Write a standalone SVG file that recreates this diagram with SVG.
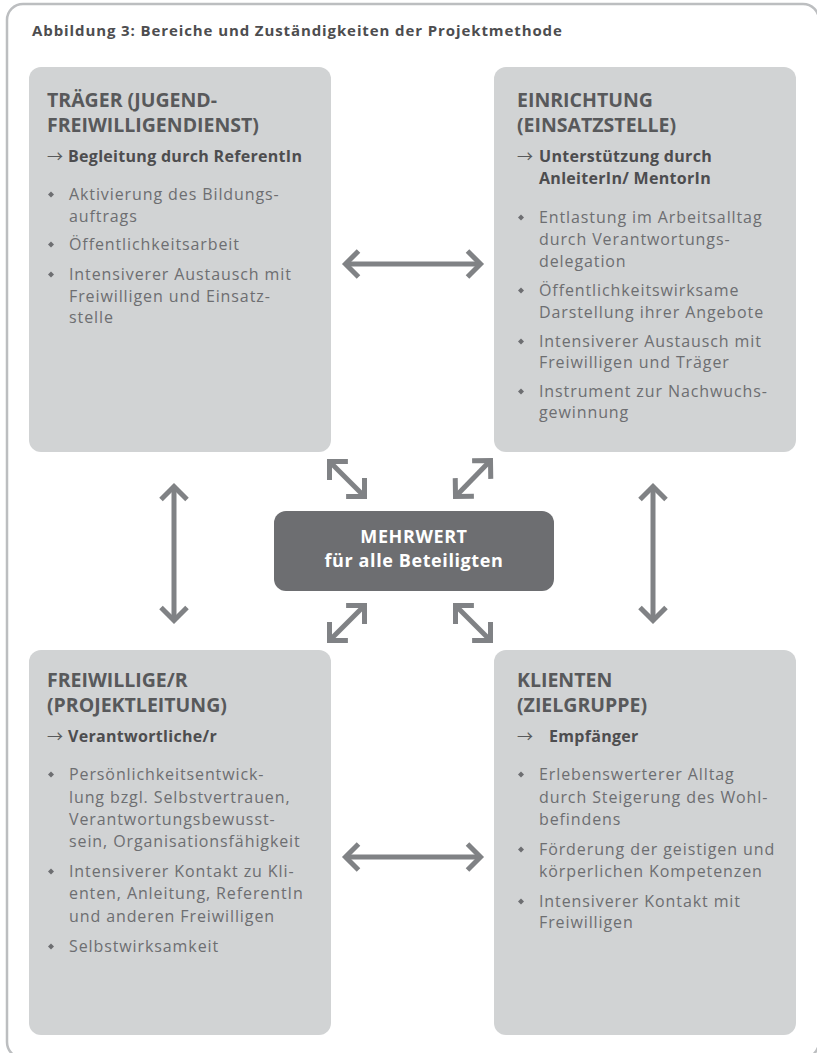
<svg xmlns="http://www.w3.org/2000/svg" width="817" height="1053" viewBox="0 0 817 1053">
<defs>
<style>
.frame{fill:none;stroke:#bcbec0;stroke-width:2.5}
.box{fill:#d1d3d4}
.center{fill:#6d6e71}
.hdr{font-family:"Open Sans",sans-serif;font-weight:bold;font-size:15px;fill:#4d4d4f;letter-spacing:0.9px}
.title{font-family:"Open Sans",sans-serif;font-weight:bold;font-size:19.5px;fill:#58595b}
.sub{font-family:"Open Sans",sans-serif;font-weight:bold;font-size:16px;fill:#4d4d4f;letter-spacing:0.3px}
.arr{font-family:"Noto Sans CJK JP","DejaVu Sans",sans-serif;font-weight:normal;font-size:16px;fill:#58595b;letter-spacing:0}
.body{font-family:"Open Sans",sans-serif;font-size:16px;fill:#6d6e71;letter-spacing:0.9px}
.ctext{font-family:"Open Sans",sans-serif;font-weight:bold;font-size:18px;fill:#ffffff;text-anchor:middle;letter-spacing:0.6px}
.conn{fill:none;stroke:#808285;stroke-width:5;marker-start:url(#chev);marker-end:url(#chev)}
.bul{fill:#6d6e71}
</style>
<marker id="chev" markerUnits="userSpaceOnUse" viewBox="-20 -20 30 40" markerWidth="30" markerHeight="40" refX="0" refY="0" orient="auto-start-reverse">
<path d="M-13,-13 L0,0 L-13,13" fill="none" stroke="#808285" stroke-width="5" stroke-linejoin="miter"/>
</marker>
<path id="dia" d="M0,-3 L3,0 L0,3 L-3,0 Z"/>
</defs>
<rect x="0" y="0" width="817" height="1053" fill="#ffffff"/>
<rect class="frame" x="7" y="4" width="812" height="1054" rx="16"/>
<text class="hdr" x="32" y="36">Abbildung 3: Bereiche und Zuständigkeiten der Projektmethode</text>

<g id="connectors">
<line class="conn" x1="345.5" y1="264" x2="480.5" y2="264"/>
<line class="conn" x1="345.5" y1="857" x2="480.5" y2="857"/>
<line class="conn" x1="174" y1="486.5" x2="174" y2="620.5"/>
<line class="conn" x1="653" y1="486.5" x2="653" y2="620.5"/>
<line class="conn" x1="329.5" y1="461.5" x2="364.5" y2="496.5"/>
<line class="conn" x1="490.5" y1="460.5" x2="455.5" y2="496.5"/>
<line class="conn" x1="364.5" y1="605.5" x2="329.5" y2="640.5"/>
<line class="conn" x1="455.5" y1="605.5" x2="490.5" y2="640.5"/>
</g>

<g id="traeger">
<rect class="box" x="29" y="67" width="302" height="385" rx="12"/>
<text class="title" x="47" y="107">TRÄGER (JUGEND-</text>
<text class="title" x="47" y="132">FREIWILLIGENDIENST)</text>
<text class="arr" x="47" y="162">→</text>
<text class="sub" x="68" y="162">Begleitung durch ReferentIn</text>
<use href="#dia" x="51" y="194.5" class="bul"/>
<text class="body" x="69" y="200">Aktivierung des Bildungs-</text>
<text class="body" x="69" y="222">auftrags</text>
<use href="#dia" x="51" y="244.5" class="bul"/>
<text class="body" x="69" y="250">Öffentlichkeitsarbeit</text>
<use href="#dia" x="51" y="274.5" class="bul"/>
<text class="body" x="69" y="280">Intensiverer Austausch mit</text>
<text class="body" x="69" y="302">Freiwilligen und Einsatz-</text>
<text class="body" x="69" y="323">stelle</text>
</g>

<g id="einrichtung">
<rect class="box" x="494" y="67" width="302" height="385" rx="12"/>
<text class="title" x="517" y="107">EINRICHTUNG</text>
<text class="title" x="517" y="132">(EINSATZSTELLE)</text>
<text class="arr" x="517" y="162">→</text>
<text class="sub" x="539" y="162">Unterstützung durch</text>
<text class="sub" x="539" y="184">AnleiterIn/ MentorIn</text>
<use href="#dia" x="521" y="217.5" class="bul"/>
<text class="body" x="539" y="223">Entlastung im Arbeitsalltag</text>
<text class="body" x="539" y="245">durch Verantwortungs-</text>
<text class="body" x="539" y="267">delegation</text>
<use href="#dia" x="521" y="290.5" class="bul"/>
<text class="body" x="539" y="296">Öffentlichkeitswirksame</text>
<text class="body" x="539" y="318">Darstellung ihrer Angebote</text>
<use href="#dia" x="521" y="341.5" class="bul"/>
<text class="body" x="539" y="347">Intensiverer Austausch mit</text>
<text class="body" x="539" y="368">Freiwilligen und Träger</text>
<use href="#dia" x="521" y="391.5" class="bul"/>
<text class="body" x="539" y="397">Instrument zur Nachwuchs-</text>
<text class="body" x="539" y="418">gewinnung</text>
</g>

<g id="mehrwert">
<rect class="center" x="274" y="511" width="280" height="80" rx="12"/>
<text class="ctext" x="414" y="543">MEHRWERT</text>
<text class="ctext" x="414" y="567">für alle Beteiligten</text>
</g>

<g id="freiwillige">
<rect class="box" x="29" y="650" width="302" height="385" rx="12"/>
<text class="title" x="47" y="687">FREIWILLIGE/R</text>
<text class="title" x="47" y="712">(PROJEKTLEITUNG)</text>
<text class="arr" x="47" y="742">→</text>
<text class="sub" x="68" y="742">Verantwortliche/r</text>
<use href="#dia" x="51" y="774.5" class="bul"/>
<text class="body" x="69" y="780">Persönlichkeitsentwick-</text>
<text class="body" x="69" y="803">lung bzgl. Selbstvertrauen,</text>
<text class="body" x="69" y="825">Verantwortungsbewusst-</text>
<text class="body" x="69" y="847">sein, Organisationsfähigkeit</text>
<use href="#dia" x="51" y="871.5" class="bul"/>
<text class="body" x="69" y="877">Intensiverer Kontakt zu Kli-</text>
<text class="body" x="69" y="899">enten, Anleitung, ReferentIn</text>
<text class="body" x="69" y="922">und anderen Freiwilligen</text>
<use href="#dia" x="51" y="946.5" class="bul"/>
<text class="body" x="69" y="952">Selbstwirksamkeit</text>
</g>

<g id="klienten">
<rect class="box" x="494" y="650" width="302" height="385" rx="12"/>
<text class="title" x="517" y="687">KLIENTEN</text>
<text class="title" x="517" y="712">(ZIELGRUPPE)</text>
<text class="arr" x="517" y="742">→</text>
<text class="sub" x="549" y="742">Empfänger</text>
<use href="#dia" x="521" y="774.5" class="bul"/>
<text class="body" x="539" y="780">Erlebenswerterer Alltag</text>
<text class="body" x="539" y="803">durch Steigerung des Wohl-</text>
<text class="body" x="539" y="825">befindens</text>
<use href="#dia" x="521" y="849.5" class="bul"/>
<text class="body" x="539" y="855">Förderung der geistigen und</text>
<text class="body" x="539" y="877">körperlichen Kompetenzen</text>
<use href="#dia" x="521" y="901.5" class="bul"/>
<text class="body" x="539" y="907">Intensiverer Kontakt mit</text>
<text class="body" x="539" y="928">Freiwilligen</text>
</g>
</svg>
